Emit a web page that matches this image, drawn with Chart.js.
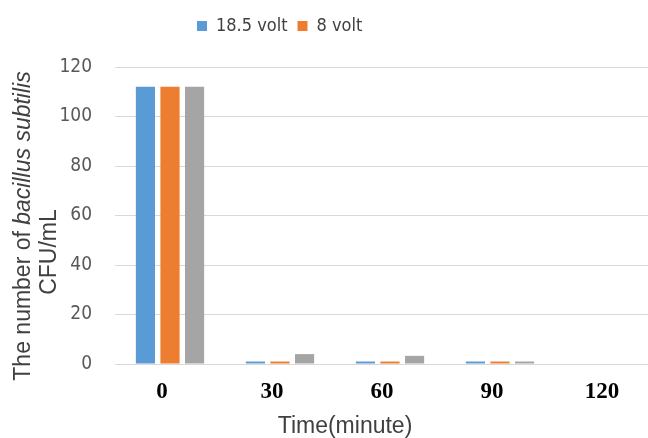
<!DOCTYPE html>
<html>
<head>
<meta charset="utf-8">
<script src="https://cdn.jsdelivr.net/npm/chart.js@4/dist/chart.umd.min.js"></script>
<style>
    html, body { margin: 0; padding: 0; background: #fff; overflow: hidden; }
    #wrap { width: 666px; height: 438px; }
</style>
</head>
<body>
<div id="wrap"><canvas id="bacteriaChart"></canvas></div>
<script>
var timeLabels = ['0', '30', '60', '90', '120'];
var volt185 = [112, 1, 1, 1, 0];
var volt8 = [112, 1, 1, 1, 0];
var thirdSeries = [112, 4, 3.3, 1, 0];
var yTicks = [0, 20, 40, 60, 80, 100, 120];

var tickFont = "'Liberation Sans Narrow', 'DejaVu Sans Condensed', 'Liberation Sans', sans-serif";

// axis titles drawn by hand so part of the y title can be italic
var axisTitles = {
    id: 'axisTitles',
    afterLayout: function(chart) {
        // legend sits left of centre and higher up in the reference
        var lg = chart.legend;
        var w = lg.right - lg.left;
        lg.left = 187;
        lg.right = 187 + w;
        lg.top -= 22;
        lg.bottom -= 22;
    },
    afterDraw: function(chart) {
        var ctx = chart.ctx;
        ctx.save();
        ctx.fillStyle = '#404040';
        ctx.textBaseline = 'middle';

        // y title, line 1
        var normal = "23px 'Liberation Sans', sans-serif";
        var italic = "italic 23px 'Liberation Sans', sans-serif";
        var part1 = 'The number of ';
        var part2 = 'bacillus subtilis';
        ctx.font = normal;
        var w1 = ctx.measureText(part1).width;
        ctx.font = italic;
        var w2 = ctx.measureText(part2).width;
        ctx.translate(24, 226);
        ctx.rotate(-Math.PI / 2);
        ctx.textAlign = 'left';
        ctx.font = normal;
        ctx.fillText(part1, -(w1 + w2) / 2, 0);
        ctx.font = italic;
        ctx.fillText(part2, -(w1 + w2) / 2 + w1, 0);
        ctx.restore();

        // y title, line 2
        ctx.save();
        ctx.fillStyle = '#404040';
        ctx.textBaseline = 'middle';
        ctx.textAlign = 'center';
        ctx.translate(50, 252);
        ctx.rotate(-Math.PI / 2);
        ctx.font = normal;
        ctx.fillText('CFU/mL', 0, 0);
        ctx.restore();

        // x title
        ctx.save();
        ctx.fillStyle = '#404040';
        ctx.textAlign = 'center';
        ctx.textBaseline = 'middle';
        ctx.font = "23px 'Liberation Sans', sans-serif";
        ctx.fillText('Time(minute)', 345, 427);
        ctx.restore();
    }
};

var ctx = document.getElementById('bacteriaChart');

new Chart(ctx, {
    type: 'bar',
    data: {
        labels: timeLabels,
        datasets: [{
            label: '18.5 volt',
            data: volt185,
            backgroundColor: '#5B9BD5',
        }, {
            label: '8 volt',
            data: volt8,
            backgroundColor: '#ED7D31',
        }, {
            label: 'series 3',
            data: thirdSeries,
            backgroundColor: '#A5A5A5',
        }]
    },
    options: {
        responsive: true,
        maintainAspectRatio: false,
        animation: false,
        layout: {
            padding: { left: 0, right: 1, top: 29, bottom: 0 }
        },
        datasets: {
            bar: {
                categoryPercentage: 0.67,
                barPercentage: 0.78,
            }
        },
        plugins: {
            legend: {
                display: true,
                position: 'top',
                align: 'start',
                labels: {
                    boxWidth: 10,
                    boxHeight: 10,
                    padding: 10,
                    color: '#404040',
                    font: { family: tickFont, size: 18 },
                    filter: function(item) {
                        return item.datasetIndex < 2;
                    }
                }
            },
            tooltip: { enabled: false },
        },
        scales: {
            x: {
                grid: { display: false },
                border: { color: '#d9d9d9' },
                ticks: {
                    color: '#000',
                    padding: 6,
                    labelOffset: -8,
                    font: { family: "'Liberation Serif', serif", size: 23, weight: 'bold' },
                },
                afterFit: function(scale) {
                    scale.height = 74;
                }
            },
            y: {
                min: 0,
                max: 120,
                grid: { color: '#d9d9d9', drawTicks: false },
                border: { display: false },
                afterBuildTicks: function(scale) {
                    scale.ticks = yTicks.map(function(v) { return { value: v }; });
                },
                ticks: {
                    color: '#595959',
                    padding: 23,
                    font: { family: tickFont, size: 19 },
                },
                afterFit: function(scale) {
                    scale.width = 115;
                }
            }
        }
    },
    plugins: [axisTitles]
});
</script>
</body>
</html>
